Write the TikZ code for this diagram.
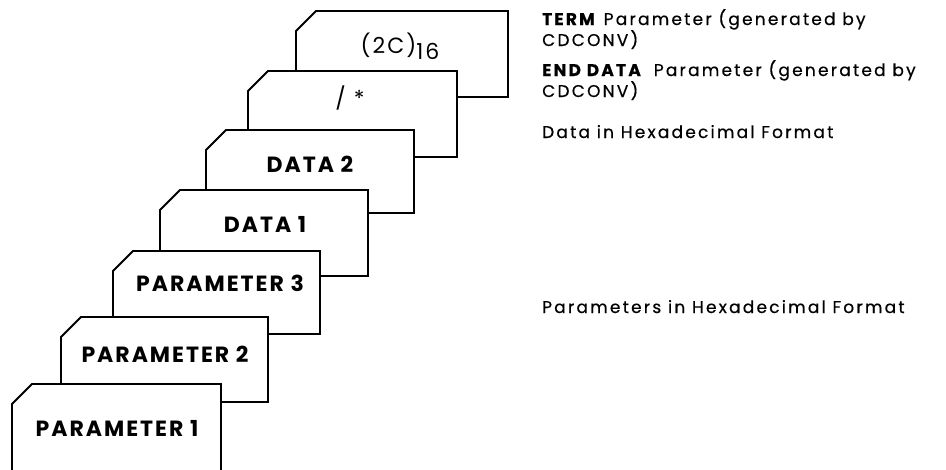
\documentclass[tikz,border=0pt]{standalone}
\usepackage{fontspec}
\setmainfont{Poppins}
\tikzset{
  card/.style={draw=black, fill=white, line width=1.8pt, line join=miter},
  cardtext/.style={font=\bfseries\fontsize{22}{26}\selectfont\addfontfeatures{LetterSpace=9}, inner sep=0pt, anchor=base},
  note/.style={font=\fontsize{17}{20}\selectfont\addfontfeatures{LetterSpace=13,FakeBold=0.5}, inner sep=0pt, anchor=base west},
}
\begin{document}
\begin{tikzpicture}[x=1pt,y=-1pt]
\useasboundingbox (0,0) rectangle (946,469);
% cards drawn from back to front: L/T/R/B
\foreach \L/\T/\R/\B in {296/11/508/97, 248/71/457/157, 206/130/414/213, 160/190/368/276, 113/251/320/334, 61/317/268/402, 12/384/221/495}{
  \filldraw[card] (\L,\T+20) -- (\L+20,\T) -- (\R,\T) -- (\R,\B) -- (\L,\B) -- cycle;
}
\node[cardtext] (t7) at (400,53) {\mdseries(2C)\raisebox{-6pt}{16}};
\node[cardtext] (t6) at (350,106) {\mdseries/ *};
\node[cardtext] (t5) at (310,172) {DATA 2};
\node[cardtext] (t4) at (265,232) {DATA 1};
\node[cardtext] (t3) at (220,291) {PARAMETER 3};
\node[cardtext] (t2) at (165,362) {PARAMETER 2};
\node[cardtext] (t1) at (117,436) {PARAMETER 1};
\node[note] (n1) at (542,25) {\textbf{TERM} Parameter (generated by};
\node[note] (n1b) at (542,46) {CDCONV)};
\node[note] (n2) at (542,76) {\textbf{END DATA}\hspace{4pt} Parameter (generated by};
\node[note] (n2b) at (542,97) {CDCONV)};
\node[note] (n3) at (542,138) {Data in Hexadecimal Format};
\node[note] (n4) at (542,313) {Parameters in Hexadecimal Format};
\end{tikzpicture}
\end{document}
